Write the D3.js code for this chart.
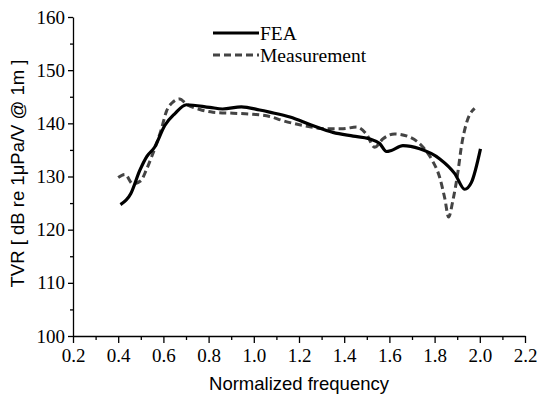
<!DOCTYPE html>
<html>
<head>
<meta charset="utf-8">
<script src="https://cdn.jsdelivr.net/npm/d3@7"></script>
<style>
  body { margin: 0; background: #fff; }
  svg { display: block; }
</style>
</head>
<body>
<svg></svg>
<script>
const width = 537;
const height = 394;
const margin = { left: 73, right: 12, top: 17, bottom: 58 };

// FEA (solid)
const feaFreq = [0.41, 0.456, 0.495, 0.527, 0.561, 0.606, 0.65, 0.702, 0.805, 0.862, 0.945, 1.026,
  1.07, 1.16, 1.26, 1.35, 1.44, 1.51, 1.557, 1.587, 1.609, 1.66, 1.734, 1.823, 1.89, 1.933, 1.963, 2.003];
const feaTvr = [124.7, 126.8, 131.1, 133.8, 135.5, 139.6, 141.8, 143.5, 143.0, 142.7, 143.1, 142.5,
  142.1, 141.2, 139.6, 138.3, 137.6, 137.1, 136.2, 134.7, 134.9, 135.8, 135.2, 133.3, 130.5, 127.6, 128.9, 135.2];

// Measurement (dashed)
const measFreq = [0.40, 0.43, 0.465, 0.50, 0.525, 0.547, 0.569, 0.591, 0.613, 0.642, 0.672, 0.702, 0.761,
  0.819, 0.908, 0.996, 1.07, 1.129, 1.218, 1.321, 1.395, 1.454, 1.498, 1.535, 1.572, 1.623, 1.69, 1.749,
  1.79, 1.822, 1.845, 1.862, 1.881, 1.904, 1.918, 1.94, 1.977];
const measTvr = [129.8, 130.4, 128.6, 129.2, 131.3, 133.6, 136.1, 138.9, 142.2, 144.0, 144.6, 143.6, 142.6,
  142.1, 141.9, 141.7, 141.3, 140.5, 139.6, 139.0, 139.0, 139.3, 138.0, 135.5, 137.1, 138.0, 137.4, 135.5,
  133.0, 129.9, 125.9, 122.4, 125.5, 131.1, 135.5, 139.9, 142.8];

const xTicks = [0.2, 0.4, 0.6, 0.8, 1.0, 1.2, 1.4, 1.6, 1.8, 2.0, 2.2];
const yTicks = [100, 110, 120, 130, 140, 150, 160];

const svg = d3.select("svg")
    .attr("width", width)
    .attr("height", height);

const x = d3.scaleLinear().domain([0.2, 2.2]).range([margin.left, width - margin.right]);
const y = d3.scaleLinear().domain([100, 160]).range([height - margin.bottom, margin.top]);

// минорные деления
const xMinor = d3.range(0.3, 2.2, 0.2);
const yMinor = d3.range(105, 160, 10);

svg.append("g")
    .attr("transform", `translate(0, ${y(100)})`)
    .call(d3.axisBottom(x).tickValues(xMinor).tickSize(4).tickFormat(""))
    .call(g => g.select(".domain").remove());

svg.append("g")
    .attr("transform", `translate(${x(0.2)}, 0)`)
    .call(d3.axisLeft(y).tickValues(yMinor).tickSize(3).tickFormat(""))
    .call(g => g.select(".domain").remove());

// основные оси
const axX = svg.append("g")
    .attr("transform", `translate(0, ${y(100)})`)
    .call(d3.axisBottom(x).tickValues(xTicks).tickSize(7).tickSizeOuter(0).tickPadding(6)
        .tickFormat(d3.format(".1f")));

const axY = svg.append("g")
    .attr("transform", `translate(${x(0.2)}, 0)`)
    .call(d3.axisLeft(y).tickValues(yTicks).tickSize(5).tickSizeOuter(0).tickPadding(3));

svg.selectAll(".tick line, .domain").attr("stroke", "#000").attr("stroke-width", 1.3);
[axX, axY].forEach(ax => ax.selectAll("text")
    .attr("font-family", "'Liberation Serif', 'Times New Roman', serif")
    .attr("font-size", 19)
    .attr("fill", "#000"));

// подписи осей
svg.append("text")
    .attr("x", x(1.2))
    .attr("y", 390)
    .attr("text-anchor", "middle")
    .attr("font-family", "'Liberation Sans', Arial, sans-serif")
    .attr("font-size", 18.5)
    .text("Normalized frequency");

svg.append("text")
    .attr("transform", `translate(24, ${y(130) - 3}) rotate(-90)`)
    .attr("text-anchor", "middle")
    .attr("font-family", "'Liberation Sans', Arial, sans-serif")
    .attr("font-size", 18.5)
    .text("TVR [ dB re 1μPa/V @ 1m ]");

const line = d3.line()
    .x(d => x(d[0]))
    .y(d => y(d[1]))
    .curve(d3.curveMonotoneX);

const meas = d3.zip(measFreq, measTvr);
const fea = d3.zip(feaFreq, feaTvr);

svg.append("path")
    .datum(meas)
    .attr("d", line)
    .attr("fill", "none")
    .attr("stroke", "#444")
    .attr("stroke-width", 3)
    .attr("stroke-dasharray", "7,4");

svg.append("path")
    .datum(fea)
    .attr("d", line)
    .attr("fill", "none")
    .attr("stroke", "#000")
    .attr("stroke-width", 3.2);

// легенда
const legend = [
    { name: "FEA", color: "#000", dash: null, w: 3.2 },
    { name: "Measurement", color: "#444", dash: "7,4", w: 3 }
];
const lg = svg.selectAll(".legend")
    .data(legend)
    .enter()
    .append("g")
    .attr("transform", (d, i) => `translate(213, ${33 + i * 22})`);

lg.append("line")
    .attr("x1", 0).attr("x2", 46)
    .attr("stroke", d => d.color)
    .attr("stroke-width", d => d.w)
    .attr("stroke-dasharray", d => d.dash);

lg.append("text")
    .attr("x", 47)
    .attr("y", 7)
    .attr("font-family", "'Liberation Serif', 'Times New Roman', serif")
    .attr("font-size", 19.5)
    .text(d => d.name);
</script>
</body>
</html>
